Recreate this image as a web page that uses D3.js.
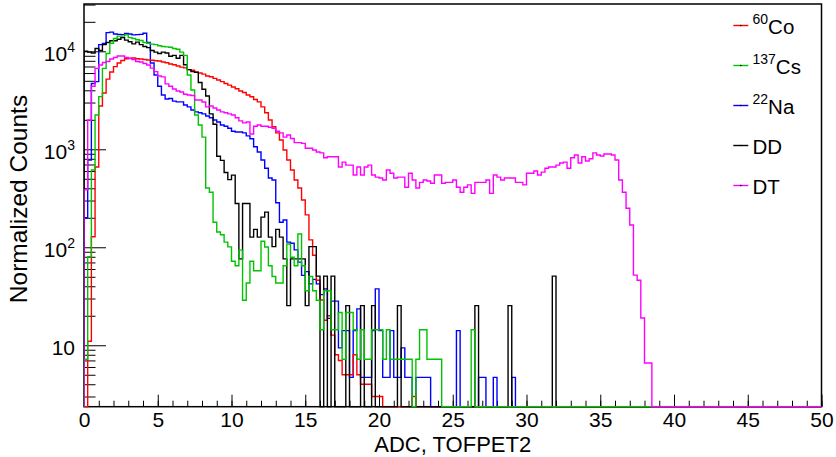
<!DOCTYPE html>
<html>
<head>
<meta charset="utf-8">
<script src="https://cdn.jsdelivr.net/npm/d3@7"></script>
<style>
  body { margin: 0; background: #fff; }
  svg { display: block; }
  text { font-family: "Liberation Sans", Arial, Helvetica, sans-serif; fill: #000; }
</style>
</head>
<body>
<svg id="chart" width="836" height="457"></svg>
<script>
// Histogram binning: 200 bins of 0.25 ADC units from 0 to 50
const binWidth = 0.25;
const nBins = 200;

// Normalized counts per bin (bins past the end of each array are empty)
const co60 = [
  0, 11, 128, 660, 2770, 3750, 5200, 6150, 6970, 7600,
  8050, 8400, 8500, 8550, 8400, 8350, 8250, 8150, 8100, 8000,
  7960, 7780, 7650, 7430, 7300, 7080, 6900, 6780, 6510, 6400,
  6140, 6000, 5850, 5600, 5500, 5290, 5090, 4900, 4700, 4520,
  4330, 4150, 3940, 3800, 3580, 3440, 3220, 3050, 2710, 2360,
  1990, 1700, 1470, 1245, 985, 778, 615, 486, 403, 304,
  214, 119, 83, 46, 29, 18, 20, 12.7, 8, 7,
  5, 5, 5, 8, 5, 4, 4, 4, 3, 3,
  3, 0, 0, 0, 0, 0, 0, 0, 0, 3
];

const cs137 = [
  7.2, 80, 615, 2240, 3450, 6700, 9500, 12100, 13500, 14300,
  14300, 14700, 13800, 13500, 13100, 12900, 12300, 12100, 11850, 11700,
  11400, 11200, 11100, 11000, 10700, 10500, 9800, 9100, 5730, 4030,
  2240, 1770, 1330, 403, 365, 180, 143, 134, 113, 101,
  72, 64.8, 93.6, 28.8, 43.2, 72, 57.6, 57.6, 115.2, 100.8,
  64.8, 50.4, 43.2, 43.2, 64.8, 108, 79.2, 64.8, 136.8, 64.8,
  36, 50.4, 36, 28.8, 14.4, 36, 36, 14.4, 14.4, 21.6,
  7.2, 21.6, 21.6, 14.4, 7.2, 14.4, 7.2, 7.2, 14.4, 14.4,
  14.4, 7.2, 14.4, 7.2, 7.2, 7.2, 7.2, 7.2, 7.2, 0,
  7.2, 14.4, 14.4, 7.2, 7.2, 7.2, 7.2, 0, 0, 0,
  0, 0, 0, 0, 0, 14.4
];

const na22 = [
  200, 778, 4700, 4900, 11700, 12000, 15500, 15700, 15000, 14900,
  14800, 15200, 15000, 14700, 14800, 14900, 15300, 12300, 7600, 5730,
  4400, 3580, 3260, 3300, 3100, 3050, 3050, 2830, 2710, 2520,
  2410, 2360, 2300, 2190, 2100, 1990, 1900, 1770, 1720, 1640,
  1530, 1500, 1500, 1470, 1370, 1280, 1060, 940, 778, 640,
  510, 486, 285, 180, 190, 113, 110, 94, 70.5, 51.7,
  56.4, 42.3, 47, 42.3, 32.9, 37.6, 18.8, 28.2, 28.2, 9.4,
  14.1, 14.1, 4.7, 14.1, 23.5, 4.7, 4.7, 4.7, 14.1, 37.6,
  14.1, 4.7, 4.7, 14.1, 4.7, 4.7, 9.4, 4.7, 4.7, 0,
  4.7, 4.7, 4.7, 4.7, 0, 0, 0, 0, 0, 0,
  0, 14.1, 0, 0, 0, 0, 0, 4.7, 4.7, 0,
  0, 4.7, 0, 0, 0, 0, 4.7
];

const dd = [
  10000, 9800, 9600, 10700, 10200, 11700, 12300, 12800, 12800, 13300,
  13800, 13000, 12500, 11900, 12400, 11700, 11200, 10900, 10200, 9800,
  9500, 9800, 9600, 8900, 9100, 8500, 9100, 7300, 6500, 6200,
  6100, 4800, 4100, 3500, 2300, 1800, 850, 770, 580, 490,
  545, 279.4, 76.2, 279.4, 279.4, 127, 152.4, 127, 203.2, 228.6,
  127, 101.6, 152.4, 127, 76.2, 25.4, 76.2, 76.2, 76.2, 76.2,
  25.4, 101.6, 101.6, 50.8, 0, 50.8, 0, 50.8, 0, 0,
  0, 25.4, 0, 0, 0, 25.4, 0, 0, 25.4, 0,
  0, 0, 0, 0, 0, 25.4, 0, 0, 0, 0,
  0, 0, 0, 0, 0, 0, 0, 0, 0, 0,
  0, 0, 0, 0, 0, 0, 25.4, 0, 0, 0,
  0, 0, 0, 0, 0, 25.4, 0, 0, 0, 0,
  0, 0, 0, 0, 0, 0, 0, 50.8
];

const dt = [
  385, 1990, 4400, 6700, 7240, 7700, 7870, 8350, 8650, 8950,
  8950, 8650, 8450, 8260, 7870, 7780, 7510, 7240, 6740, 6200,
  5600, 5480, 4650, 4400, 4120, 3940, 3850, 3650, 3580, 3540,
  3180, 3180, 3040, 2710, 2770, 2640, 2520, 2410, 2360, 2300,
  2240, 2100, 1950, 1860, 1900, 1430, 1720, 1770, 1720, 1720,
  1680, 1640, 1530, 1470, 1330, 1400, 1290, 1170, 1170, 1150,
  1025, 1025, 985, 940, 920, 820, 840, 840, 840, 660,
  740, 690, 690, 547, 660, 547, 660, 690, 547, 520,
  510, 486, 615, 570, 510, 520, 520, 410, 570, 486,
  403, 460, 486, 475, 450, 547, 547, 450, 460, 460,
  486, 410, 365, 410, 433, 355, 460, 460, 460, 486,
  355, 547, 520, 486, 510, 510, 510, 460, 460, 433,
  570, 570, 600, 547, 585, 640, 660, 660, 690, 725,
  740, 640, 820, 875, 725, 840, 760, 800, 920, 875,
  855, 895, 895, 875, 778, 486, 365, 250, 169, 52,
  46, 19, 6.6, 6.6
];

// Axis ranges and tick values
const xDomain = [0, 50];
const yDomain = [2.36, 30400];
const xMajorTicks = d3.range(0, 51, 5);
const xMinorTicks = d3.range(0, 51, 1);
const yDecadeTicks = [10, 100, 1000, 10000];
const yDecadeExp = ["", "2", "3", "4"];

// Series in drawing order, and legend entries in listed order
const seriesDefs = [
  { key: "na22",  values: na22,  color: "#0000ff" },
  { key: "co60",  values: co60,  color: "#ff0000" },
  { key: "dd",    values: dd,    color: "#000000" },
  { key: "cs137", values: cs137, color: "#00c400" },
  { key: "dt",    values: dt,    color: "#ff00ff" }
];
const legendEntries = [
  { sup: "60",  label: "Co", color: "#ff0000" },
  { sup: "137", label: "Cs", color: "#00c400" },
  { sup: "22",  label: "Na", color: "#0000ff" },
  { sup: "",    label: "DD", color: "#000000" },
  { sup: "",    label: "DT", color: "#ff00ff" }
];

const xAxisTitle = "ADC, TOFPET2";
const yAxisTitle = "Normalized Counts";

// Frame geometry
const W = 836, H = 457;
const frame = { left: 84, right: 821.5, top: 4, bottom: 406.7 };

const svg = d3.select("#chart");

const x = d3.scaleLinear().domain(xDomain).range([frame.left, frame.right]);
const y = d3.scaleLog().domain(yDomain).range([frame.bottom, frame.top]);

svg.append("defs").append("clipPath").attr("id", "plotClip")
  .append("rect")
  .attr("x", frame.left).attr("y", frame.top - 1)
  .attr("width", frame.right - frame.left)
  .attr("height", frame.bottom - frame.top + 2);

// Frame box
svg.append("rect")
  .attr("x", frame.left).attr("y", frame.top)
  .attr("width", frame.right - frame.left)
  .attr("height", frame.bottom - frame.top)
  .attr("fill", "none").attr("stroke", "#000").attr("stroke-width", 1.5);

// X axis: minor and major ticks pointing into the frame
const xMinor = d3.axisBottom(x).tickValues(xMinorTicks).tickFormat("")
  .tickSizeInner(-6).tickSizeOuter(0);
svg.append("g").attr("transform", `translate(0,${frame.bottom})`).call(xMinor)
  .call(g => g.select(".domain").remove())
  .call(g => g.selectAll("line").attr("stroke", "#000").attr("stroke-width", 1));

const xMajor = d3.axisBottom(x).tickValues(xMajorTicks).tickFormat(d3.format("d"))
  .tickSizeInner(-12).tickSizeOuter(0).tickPadding(5.8);
svg.append("g").attr("transform", `translate(0,${frame.bottom})`).call(xMajor)
  .call(g => g.select(".domain").remove())
  .call(g => g.selectAll("line").attr("stroke", "#000").attr("stroke-width", 1))
  .call(g => g.selectAll("text").attr("font-size", 21)
    .attr("font-family", "'Liberation Sans', Arial, sans-serif").attr("fill", "#000"));

// Y axis: decade ticks with power-of-ten labels, plus minor ticks
const yMinorTicks = [];
[1, 10, 100, 1000, 10000].forEach(dec => {
  for (let m = 2; m <= 9; m++) {
    const v = m * dec;
    if (v > yDomain[0] && v < yDomain[1]) yMinorTicks.push(v);
  }
});

const yMinor = d3.axisLeft(y).tickValues(yMinorTicks).tickFormat("")
  .tickSizeInner(-11.5).tickSizeOuter(0);
svg.append("g").attr("transform", `translate(${frame.left},0)`).call(yMinor)
  .call(g => g.select(".domain").remove())
  .call(g => g.selectAll("line").attr("stroke", "#000").attr("stroke-width", 1));

const yMajor = d3.axisLeft(y).tickValues(yDecadeTicks).tickFormat("")
  .tickSizeInner(-22).tickSizeOuter(0);
const yMajorG = svg.append("g").attr("transform", `translate(${frame.left},0)`).call(yMajor);
yMajorG.select(".domain").remove();
yMajorG.selectAll("line").attr("stroke", "#000").attr("stroke-width", 1);
yMajorG.selectAll(".tick").each(function (d, i) {
  const t = d3.select(this).select("text")
    .attr("x", -9).attr("dy", null).attr("y", 9.5)
    .attr("text-anchor", "end").attr("font-size", 21).attr("fill", "#000");
  t.text(null);
  t.append("tspan").text("10");
  if (yDecadeExp[i]) {
    t.append("tspan").attr("font-size", 14).attr("dy", -9).text(yDecadeExp[i]);
  }
});

// Histograms drawn as step outlines
function histPath(vals) {
  const pts = [[x(0), y(yDomain[0])]];
  for (let i = 0; i < nBins; i++) {
    const v = i < vals.length ? vals[i] : 0;
    const yy = y(Math.min(Math.max(v, yDomain[0]), yDomain[1]));
    pts.push([x(i * binWidth), yy], [x((i + 1) * binWidth), yy]);
  }
  return d3.line()(pts);
}

const plot = svg.append("g").attr("clip-path", "url(#plotClip)");
seriesDefs.forEach(s => {
  plot.append("path")
    .attr("d", histPath(s.values))
    .attr("fill", "none")
    .attr("stroke", s.color)
    .attr("stroke-width", 1.4)
    .attr("stroke-linejoin", "miter");
});

// Legend
const legend = svg.append("g");
legendEntries.forEach((e, i) => {
  const base = 33.5 + 40 * i;
  const ly = base - 8;
  legend.append("line")
    .attr("x1", 733.3).attr("x2", 748.3).attr("y1", ly).attr("y2", ly)
    .attr("stroke", e.color).attr("stroke-width", 1.4);
  legend.append("circle").attr("cx", 740.8).attr("cy", ly).attr("r", 0.8).attr("fill", "#000");
  const t = legend.append("text").attr("x", 752.5).attr("y", base).attr("font-size", 20.5);
  if (e.sup) {
    t.append("tspan").attr("font-size", 14).attr("dy", -10).text(e.sup);
    t.append("tspan").attr("dy", 10).text(e.label);
  } else {
    t.append("tspan").text(e.label);
  }
});

// Axis titles
svg.append("text")
  .attr("x", (frame.left + frame.right) / 2).attr("y", 452)
  .attr("text-anchor", "middle").attr("font-size", 22)
  .text(xAxisTitle);

svg.append("text")
  .attr("transform", `translate(27,199) rotate(-90)`)
  .attr("text-anchor", "middle").attr("font-size", 24.5)
  .text(yAxisTitle);
</script>
</body>
</html>
